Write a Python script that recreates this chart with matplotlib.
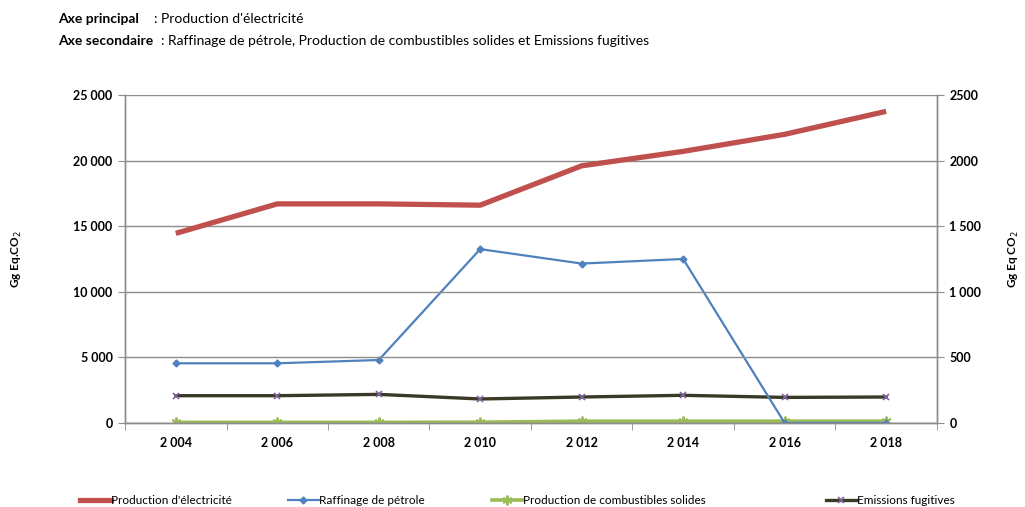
import matplotlib
matplotlib.use("Agg")
import matplotlib.pyplot as plt
from matplotlib import font_manager
from matplotlib.ticker import FixedLocator, FixedFormatter

# ── Font: narrow sans if available ───────────────────────────────────────────
_names = {f.name for f in font_manager.fontManager.ttflist}
FAMILY = [n for n in ["Liberation Sans Narrow", "Lato", "DejaVu Sans"] if n in _names]
plt.rcParams["font.family"] = FAMILY

# ── Data (Gg Eq. CO2) ────────────────────────────────────────────────────────
years = ["2 004", "2 006", "2 008", "2 010", "2 012", "2 014", "2 016", "2 018"]
electricite = [14450, 16700, 16700, 16600, 19600, 20700, 22000, 23750]   # axe principal
raffinage   = [455, 455, 480, 1325, 1215, 1250, 0, 0]                   # axe secondaire
combustibles = [5, 5, 5, 6, 14, 14, 14, 14]                              # axe secondaire
fugitives   = [208, 208, 218, 183, 198, 211, 195, 198]                   # axe secondaire

left_ticks  = [0, 5000, 10000, 15000, 20000, 25000]
left_labels = ["0", "5 000", "10 000", "15 000", "20 000", "25 000"]
right_ticks  = [0, 500, 1000, 1500, 2000, 2500]
right_labels = ["0", "500", "1 000", "1 500", "2000", "2500"]

RED, BLUE, GREEN, OLIVE, PURPLE = "#c0504d", "#4f81bd", "#9bbb59", "#3b3a27", "#8064a2"
GRID = "#8c8c8c"

fig = plt.figure(figsize=(10.25, 5.07), dpi=100)
ax = fig.add_axes([0.122, 0.1657, 0.792, 0.647])
ax2 = ax.twinx()

x = list(range(len(years)))

# secondary axis series
ax2.plot(x, combustibles, color=GREEN, lw=2.6, marker=(6, 2, 0), ms=7,
         mec=GREEN, mew=1.4, zorder=3)
ax2.plot(x, fugitives, color=OLIVE, lw=2.4, marker="x", ms=5,
         mec=PURPLE, mew=1.2, zorder=3)
ax2.plot(x, raffinage, color=BLUE, lw=1.6, marker="D", ms=3.5,
         mfc=BLUE, mec=BLUE, zorder=4)
# primary axis series
ax.plot(x, electricite, color=RED, lw=3.8, solid_capstyle="butt", zorder=5)

# put primary axis (red) on top
ax.set_zorder(ax2.get_zorder() + 1)
ax.patch.set_visible(False)

ax.set_xlim(-0.5, len(years) - 0.5)
ax.set_ylim(0, 25000)
ax2.set_ylim(0, 2500)

ax.yaxis.set_major_locator(FixedLocator(left_ticks))
ax.yaxis.set_major_formatter(FixedFormatter(left_labels))
ax2.yaxis.set_major_locator(FixedLocator(right_ticks))
ax2.yaxis.set_major_formatter(FixedFormatter(right_labels))

ax.set_xticks(x)
ax.set_xticklabels(years)
ax.set_xticks([i - 0.5 for i in range(len(years) + 1)], minor=True)
ax.tick_params(axis="x", which="major", length=0, pad=10)
ax.tick_params(axis="x", which="minor", length=5, color=GRID, direction="out")

for a in (ax, ax2):
    a.tick_params(axis="y", length=5, color=GRID, direction="out", pad=4)
    for lab in a.get_yticklabels():
        lab.set_fontsize(9)
        lab.set_fontweight("bold")
    for side in ("left", "right", "bottom"):
        a.spines[side].set_color(GRID)
        a.spines[side].set_linewidth(1.0)
    a.spines["top"].set_visible(False)
for lab in ax.get_xticklabels():
    lab.set_fontsize(9)
    lab.set_fontweight("bold")

ax.yaxis.grid(True, color=GRID, lw=1.0)
ax.set_axisbelow(True)

ax.set_ylabel("Gg Eq.CO$_2$", fontsize=8.5, fontweight="bold")
ax.yaxis.set_label_coords(-0.125, 0.5)
ax2.set_ylabel("Gg Eq CO$_2$", fontsize=8.5, fontweight="bold")
ax2.yaxis.set_label_coords(1.086, 0.5)

# header
fig.text(0.057, 0.963, "Axe principal", fontsize=10, fontweight="bold", va="center")
fig.text(0.150, 0.963, ": Production d'électricité", fontsize=10, va="center")
fig.text(0.057, 0.920, "Axe secondaire", fontsize=10, fontweight="bold", va="center")
fig.text(0.157, 0.920,
         ": Raffinage de pétrole, Production de combustibles solides et Emissions fugitives",
         fontsize=10, va="center")

# legend entries spread along the bottom
entries = [
    (0.078, dict(color=RED, lw=3.8), "Production d'électricité"),
    (0.281, dict(color=BLUE, lw=1.6, marker="D", ms=3.5), "Raffinage de pétrole"),
    (0.480, dict(color=GREEN, lw=2.6, marker=(6, 2, 0), ms=7, mew=1.4),
     "Production de combustibles solides"),
    (0.806, dict(color=OLIVE, lw=2.4, marker="x", ms=5, mec=PURPLE, mew=1.2),
     "Emissions fugitives"),
]
for xpos, style, label in entries:
    h, = ax.plot([], [], **style)
    fig.legend([h], [label], loc="center left", bbox_to_anchor=(xpos, 0.012),
               frameon=False, fontsize=8.5, handlelength=2.6, handletextpad=0.0,
               borderaxespad=0, borderpad=0)

fig.savefig("out.png", dpi=100)
